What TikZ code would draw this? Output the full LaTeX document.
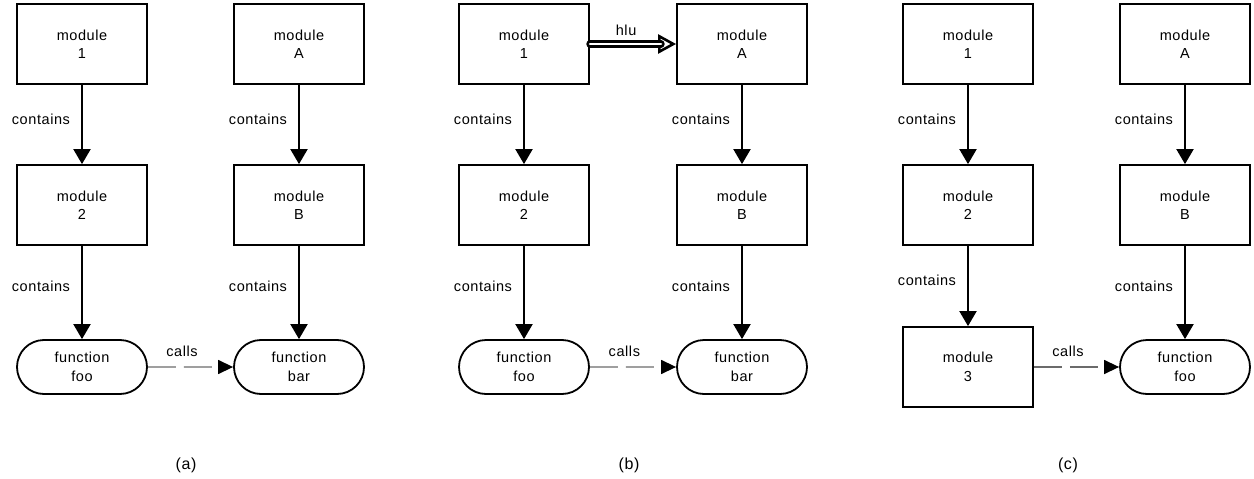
\documentclass[tikz,border=0pt]{standalone}
\usepackage{fontspec}
\setmainfont{Liberation Sans}[LetterSpace=4]
\usetikzlibrary{arrows.meta,shapes.misc}

\tikzset{
  x=1pt, y=-1pt,
  lbl/.style={font=\fontsize{14.5}{18.5}\selectfont, inner sep=0pt},
  modbox/.style={lbl, draw, line width=1.8pt, minimum width=130pt, minimum height=80pt, align=center},
  funbox/.style={lbl, draw, rounded rectangle, line width=1.8pt, minimum width=130pt, minimum height=54pt, align=center},
  containsarrow/.style={line width=2pt, -{Triangle[length=15pt,width=17pt]}},
  containslbl/.style={lbl, left=11pt, pos=0.43},
  callsarrow/.style={draw=black!58, line width=1.4pt, dash pattern=on 28pt off 8pt,
    -{Triangle[length=15pt,width=14pt,color=black]}},
  callslbl/.style={lbl, pos=0.4, yshift=16pt},
  hlushaft/.style={double=white, double distance=2.4pt, line width=2.4pt, line cap=round, shorten >=15pt},
  hluhead/.style={line width=2.6pt, -{Triangle[length=18pt,width=19pt,fill=white]}},
  panel/.style={font=\fontsize{16}{18}\selectfont, inner sep=0pt},
}

\begin{document}
\begin{tikzpicture}
\useasboundingbox (0,0) rectangle (1254,479);

% ---- (a) ----
\node[modbox] (a1) at (82,44) {module\\1};
\node[modbox] (a2) at (82,205) {module\\2};
\node[funbox] (afoo) at (82,367) {function\\foo};
\node[modbox] (aA) at (299,44) {module\\A};
\node[modbox] (aB) at (299,205) {module\\B};
\node[funbox] (abar) at (299,367) {function\\bar};
\draw[containsarrow] (a1) -- node[containslbl] (ac1) {contains} (a2);
\draw[containsarrow] (a2) -- node[containslbl] (ac2) {contains} (afoo);
\draw[containsarrow] (aA) -- node[containslbl] (ac3) {contains} (aB);
\draw[containsarrow] (aB) -- node[containslbl] (ac4) {contains} (abar);
\draw[callsarrow] (afoo) -- node[callslbl] (acalls) {calls} (abar);
\node[panel] (capa) at (186,465) {(a)};

% ---- (b) ----
\node[modbox] (b1) at (524,44) {module\\1};
\node[modbox] (b2) at (524,205) {module\\2};
\node[funbox] (bfoo) at (524,367) {function\\foo};
\node[modbox] (bA) at (742,44) {module\\A};
\node[modbox] (bB) at (742,205) {module\\B};
\node[funbox] (bbar) at (742,367) {function\\bar};
\draw[containsarrow] (b1) -- node[containslbl] (bc1) {contains} (b2);
\draw[containsarrow] (b2) -- node[containslbl] (bc2) {contains} (bfoo);
\draw[containsarrow] (bA) -- node[containslbl] (bc3) {contains} (bB);
\draw[containsarrow] (bB) -- node[containslbl] (bc4) {contains} (bbar);
\draw[callsarrow] (bfoo) -- node[callslbl] (bcalls) {calls} (bbar);
% hollow "hlu" arrow: open head first, double shaft joined into it
\coordinate (bhead) at ([xshift=-19pt]bA.west);
\draw[hluhead] (bhead) -- (bA.west);
\draw[hlushaft] (b1.east) -- node[lbl, pos=0.42, yshift=14pt] (bhlu) {hlu} (bA.west);
\node[panel] (capb) at (629,465) {(b)};

% ---- (c) ----
\node[modbox] (c1) at (968,44) {module\\1};
\node[modbox] (c2) at (968,205) {module\\2};
\node[modbox] (c3) at (968,367) {module\\3};
\node[modbox] (cA) at (1185,44) {module\\A};
\node[modbox] (cB) at (1185,205) {module\\B};
\node[funbox] (cfoo) at (1185,367) {function\\foo};
\draw[containsarrow] (c1) -- node[containslbl] (cc1) {contains} (c2);
\draw[containsarrow] (c2) -- node[containslbl] (cc2) {contains} (c3);
\draw[containsarrow] (cA) -- node[containslbl] (cc3) {contains} (cB);
\draw[containsarrow] (cB) -- node[containslbl] (cc4) {contains} (cfoo);
\draw[callsarrow] (c3) -- node[callslbl] (ccalls) {calls} (cfoo);
\node[panel] (capc) at (1068,465) {(c)};
\end{tikzpicture}
\end{document}
